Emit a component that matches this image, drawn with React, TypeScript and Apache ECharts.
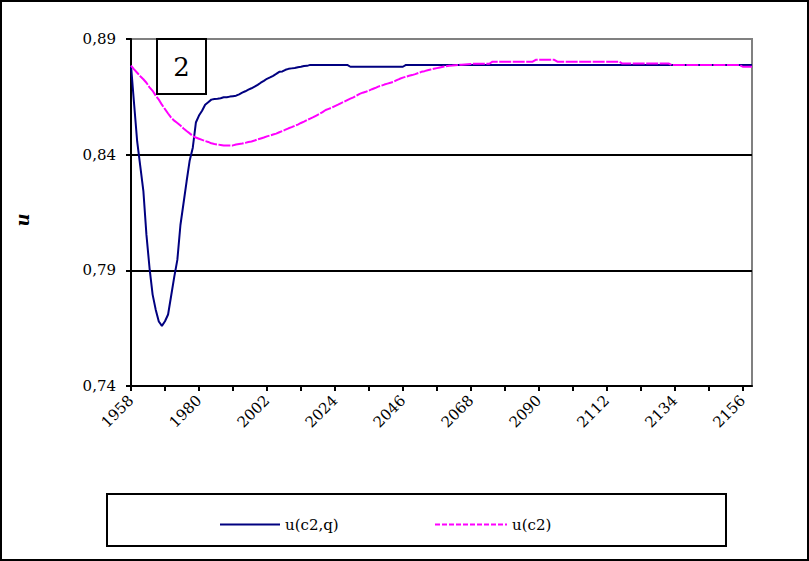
import React, { useEffect, useRef } from 'react';
import * as echarts from 'echarts';

const FONT = 'DejaVu Serif';

// categories: years 1958..2159
const years: string[] = [];
for (let y = 1958; y <= 2159; y++) years.push(String(y));

const yMin = 0.74;
const yMax = 0.89;
const yStep = 0.05;

const yAxisTitle = 'u';
const panelLabel = '2';
const seriesCqName = 'u(c2,q)';
const seriesC2Name = 'u(c2)';

// u(c2,q) — one value per year
const seriesCq: number[] = [
  0.8785, 0.862, 0.8457, 0.835, 0.8244, 0.8053, 0.791, 0.7795, 0.773, 0.7679,
  0.766, 0.768, 0.7709, 0.779, 0.7872, 0.7945, 0.8096, 0.819, 0.8285, 0.8375,
  0.843, 0.8539, 0.8569, 0.859, 0.8616, 0.8627, 0.8638, 0.8641, 0.8642, 0.8644,
  0.8648, 0.8648, 0.8651, 0.8653, 0.8655, 0.8661, 0.8668, 0.8674, 0.8681, 0.8687,
  0.8694, 0.8702, 0.8711, 0.8719, 0.8728, 0.8734, 0.8741, 0.8749, 0.8758, 0.876,
  0.8767, 0.8771, 0.8773, 0.8775, 0.8778, 0.878, 0.8783, 0.8784, 0.8788, 0.8788,
  0.8788, 0.8788, 0.8788, 0.8788, 0.8788, 0.8788, 0.8788, 0.8788, 0.8788, 0.8788,
  0.8788, 0.878, 0.878, 0.878, 0.878, 0.878, 0.878, 0.878, 0.878, 0.878,
  0.878, 0.878, 0.878, 0.878, 0.878, 0.878, 0.878, 0.878, 0.878, 0.8788,
  0.8788, 0.8788, 0.8788, 0.8788, 0.8788, 0.8788, 0.8788, 0.8788, 0.8788, 0.8788,
  0.8788, 0.8788, 0.8788, 0.8788, 0.8788, 0.8788, 0.8788, 0.8788, 0.8788, 0.8788,
  0.8788, 0.8788, 0.8788, 0.8788, 0.8788, 0.8788, 0.8788, 0.8788, 0.8788, 0.8788,
  0.8788, 0.8788, 0.8788, 0.8788, 0.8788, 0.8788, 0.8788, 0.8788, 0.8788, 0.8788,
  0.8788, 0.8788, 0.8788, 0.8788, 0.8788, 0.8788, 0.8788, 0.8788, 0.8788, 0.8788,
  0.8788, 0.8788, 0.8788, 0.8788, 0.8788, 0.8788, 0.8788, 0.8788, 0.8788, 0.8788,
  0.8788, 0.8788, 0.8788, 0.8788, 0.8788, 0.8788, 0.8788, 0.8788, 0.8788, 0.8788,
  0.8788, 0.8788, 0.8788, 0.8788, 0.8788, 0.8788, 0.8788, 0.8788, 0.8788, 0.8788,
  0.8788, 0.8788, 0.8788, 0.8788, 0.8788, 0.8788, 0.8788, 0.8788, 0.8788, 0.8788,
  0.8788, 0.8788, 0.8788, 0.8788, 0.8788, 0.8788, 0.8788, 0.8788, 0.8788, 0.8788,
  0.8788, 0.8788, 0.8788, 0.8788, 0.8788, 0.8788, 0.8788, 0.8788, 0.8788, 0.8788,
  0.8788, 0.8788,
];

// u(c2) — one value per year
const seriesC2: number[] = [
  0.8785, 0.8769, 0.8754, 0.8739, 0.8726, 0.8711, 0.8691, 0.8676, 0.8655, 0.8638,
  0.8616, 0.8597, 0.8578, 0.856, 0.8547, 0.8537, 0.8526, 0.8513, 0.8502, 0.8492,
  0.8481, 0.8474, 0.8469, 0.8464, 0.8459, 0.8455, 0.8449, 0.8446, 0.8444, 0.8442,
  0.844, 0.844, 0.844, 0.844, 0.8444, 0.8446, 0.8448, 0.8451, 0.8455, 0.8457,
  0.8461, 0.8466, 0.847, 0.8474, 0.8479, 0.8483, 0.8487, 0.8491, 0.8497, 0.8502,
  0.8508, 0.8514, 0.8519, 0.8525, 0.853, 0.8537, 0.8543, 0.855, 0.8556, 0.8562,
  0.8569, 0.8576, 0.8584, 0.8593, 0.8598, 0.8603, 0.861, 0.8616, 0.8623, 0.8629,
  0.8636, 0.8642, 0.8648, 0.8655, 0.8663, 0.8668, 0.8672, 0.8677, 0.8683, 0.8688,
  0.8694, 0.8698, 0.8703, 0.8707, 0.8711, 0.8715, 0.8722, 0.8728, 0.8733, 0.8737,
  0.8741, 0.8744, 0.8748, 0.8753, 0.8758, 0.8761, 0.8765, 0.8768, 0.8771, 0.8774,
  0.8777, 0.878, 0.8782, 0.8784, 0.8785, 0.8787, 0.8788, 0.8789, 0.879, 0.8791,
  0.8792, 0.8793, 0.8793, 0.8793, 0.8793, 0.8793, 0.8793, 0.8802, 0.8802, 0.8802,
  0.8802, 0.8802, 0.8802, 0.8802, 0.8802, 0.8802, 0.8802, 0.8802, 0.8802, 0.8802,
  0.8802, 0.881, 0.881, 0.881, 0.881, 0.881, 0.881, 0.881, 0.8802, 0.8802,
  0.8802, 0.8802, 0.8802, 0.8802, 0.8802, 0.8802, 0.8802, 0.8802, 0.8802, 0.8802,
  0.8802, 0.8802, 0.8802, 0.8802, 0.8802, 0.8802, 0.8802, 0.8802, 0.8802, 0.8794,
  0.8794, 0.8794, 0.8794, 0.8794, 0.8794, 0.8794, 0.8794, 0.8794, 0.8794, 0.8794,
  0.8794, 0.8794, 0.8794, 0.8794, 0.8794, 0.8788, 0.8788, 0.8788, 0.8788, 0.8788,
  0.8788, 0.8788, 0.8788, 0.8788, 0.8788, 0.8788, 0.8788, 0.8788, 0.8788, 0.8788,
  0.8788, 0.8788, 0.8788, 0.8788, 0.8788, 0.8788, 0.8788, 0.8788, 0.878, 0.878,
  0.878, 0.878,
];

const solidIcon = 'path://M0,0H60V2H0Z';
const dashedIcon =
  'path://M0,0h5v2h-5z M7,0h5v2h-5z M14,0h5v2h-5z M21,0h5v2h-5z M28,0h5v2h-5z M35,0h5v2h-5z M42,0h5v2h-5z M49,0h5v2h-5z M56,0h5v2h-5z M63,0h5v2h-5z M70,0h2v2h-2z';

const labelStyle = {
  fontSize: 15,
  color: '#000',
  fontFamily: FONT,
  fontWeight: 'normal' as const,
};

export default function App() {
  const ref = useRef<HTMLDivElement>(null);

  useEffect(() => {
    if (!ref.current) return;
    const chart = echarts.init(ref.current, null, { renderer: 'svg' });
    chart.setOption({
      animation: false,
      backgroundColor: '#ffffff',
      textStyle: { fontFamily: FONT, fontSize: 15 },
      grid: {
        left: 131,
        top: 39,
        right: 57,
        bottom: 175,
        show: true,
        borderColor: '#808080',
        borderWidth: 2,
        backgroundColor: 'transparent',
      },
      xAxis: {
        type: 'category',
        data: years,
        boundaryGap: false,
        axisLine: { show: true, lineStyle: { color: '#000', width: 2 } },
        axisTick: { show: true, interval: 10, length: 5, lineStyle: { color: '#000', width: 2 } },
        axisLabel: {
          ...labelStyle,
          interval: 21,
          rotate: 45,
          margin: 12,
        },
        splitLine: { show: false },
      },
      yAxis: {
        type: 'value',
        min: yMin,
        max: yMax,
        interval: yStep,
        axisLine: { show: true, lineStyle: { color: '#000', width: 2 } },
        axisTick: { show: true, length: 5, lineStyle: { color: '#000', width: 2 } },
        axisLabel: {
          ...labelStyle,
          margin: 15,
          formatter: (v: number) => v.toFixed(2).replace('.', ','),
        },
        splitLine: {
          show: true,
          showMinLine: false,
          showMaxLine: false,
          lineStyle: { color: '#000', width: 2 },
        },
      },
      legend: [
        {
          left: 215,
          top: 512,
          itemWidth: 60,
          itemHeight: 2,
          textStyle: { ...labelStyle },
          data: [{ name: seriesCqName, icon: solidIcon }],
        },
        {
          left: 430,
          top: 512,
          itemWidth: 72,
          itemHeight: 2,
          textStyle: { ...labelStyle },
          data: [{ name: seriesC2Name, icon: dashedIcon }],
        },
      ],
      series: [
        {
          name: seriesCqName,
          type: 'line',
          data: seriesCq,
          symbol: 'none',
          lineStyle: { color: '#000080', width: 2 },
          itemStyle: { color: '#000080' },
        },
        {
          name: seriesC2Name,
          type: 'line',
          data: seriesC2,
          symbol: 'none',
          lineStyle: { color: '#FF00FF', width: 2, type: [12, 1.5] },
          itemStyle: { color: '#FF00FF' },
        },
      ],
      graphic: [
        {
          type: 'rect',
          z: 100,
          shape: { x: 1, y: 1, width: 807, height: 559 },
          style: { fill: 'none', stroke: '#000', lineWidth: 2 },
        },
        {
          type: 'rect',
          z: 100,
          shape: { x: 107, y: 494, width: 619, height: 52 },
          style: { fill: 'none', stroke: '#000', lineWidth: 2 },
        },
        {
          type: 'rect',
          z: 100,
          shape: { x: 157, y: 39, width: 49, height: 55 },
          style: { fill: '#fff', stroke: '#000', lineWidth: 2 },
        },
        {
          type: 'text',
          z: 101,
          x: 181.5,
          y: 67,
          style: {
            text: panelLabel,
            fontSize: 26,
            fontFamily: FONT,
            fill: '#000',
            align: 'center',
            verticalAlign: 'middle',
          },
        },
        {
          type: 'text',
          z: 101,
          x: 22,
          y: 220,
          rotation: Math.PI / 2,
          style: {
            text: yAxisTitle,
            fontSize: 18,
            fontWeight: 'bold',
            fontStyle: 'italic',
            fontFamily: FONT,
            fill: '#000',
            align: 'center',
            verticalAlign: 'middle',
          },
        },
      ],
    });
    return () => chart.dispose();
  }, []);

  return (
    <div
      ref={ref}
      style={{ position: 'absolute', left: 0, top: 0, width: 809, height: 561 }}
    />
  );
}
